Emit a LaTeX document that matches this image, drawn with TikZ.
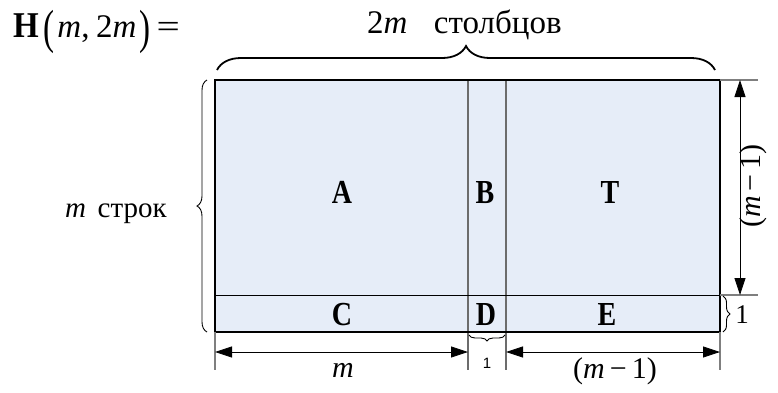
\documentclass[tikz,border=0pt]{standalone}
\usepackage{graphicx}
\usepackage{fontspec}
\setmainfont{Liberation Serif}
\newfontfamily\arialfont{Liberation Sans}
\usetikzlibrary{arrows.meta,decorations.pathreplacing,positioning}
\definecolor{cellfill}{HTML}{E6EDF8}
\definecolor{guide}{HTML}{7F7F7F}
\newcommand{\mvar}{\textit{m}}
\newcommand{\tall}[2][1.2]{\scalebox{1}[#1]{#2}}
\newcommand{\bigparen}[1]{\raisebox{-0.2em}{\scalebox{1}[1.45]{#1}}}

\begin{document}
\begin{tikzpicture}[
  x=1pt,y=-1pt,
  dim/.style={{Triangle[length=17pt,width=11pt]}-{Triangle[length=17pt,width=11pt]},line width=0.8pt},
  guideline/.style={draw=guide,line width=1.1pt},
  split/.style={draw=guide!85!black,line width=1.2pt},
  block/.style={anchor=base,font=\fontsize{28}{28}\selectfont\bfseries},
  caption/.style={anchor=base,font=\fontsize{30}{30}\selectfont},
  bigbrace/.style={decorate,decoration={brace,amplitude=24pt},line width=1.8pt},
  sidebrace/.style={decorate,decoration={brace,amplitude=#1},line width=0.9pt}
]
\useasboundingbox (0,0) rectangle (778,392);
% corners of the matrix and the split points
\coordinate (nw) at (215,80);
\coordinate (se) at (720,332);
\coordinate (rowl) at (215,295);
\coordinate (rowr) at (720,295);
% matrix body
\fill[cellfill] (nw) rectangle (se);
\draw[split] (468,80) -- (468,370);
\draw[split] (506,80) -- (506,370);
\draw[line width=0.9pt] (rowl) -- (rowr);
\draw[line width=2pt] (nw) rectangle (se);
% blocks
\node[block] (A) at (342,203) {\tall{A}};
\node[block] (B) at (485,203) {\tall{B}};
\node[block] (T) at (610,203) {\tall{T}};
\node[block] (C) at (342,325) {\tall{C}};
\node[block] (D) at (486,325) {\tall{D}};
\node[block] (E) at (607,325) {\tall{E}};
% extension lines
\draw[guideline] (720,80) -- (758,80);
\draw[guideline] (rowr) -- (758,295);
\draw[guideline] (215,332) -- (215,370);
\draw[guideline] (720,332) -- (720,370);
\coordinate (vt) at (740,80);
\coordinate (vb) at (740,295);
\coordinate (hl) at (215,352);
\coordinate (hm1) at (468,352);
\coordinate (hm2) at (506,352);
\coordinate (hr) at (720,352);
\draw[dim] (vt) -- (vb);
\draw[dim] (hl) -- (hm1);
\draw[dim] (hm2) -- (hr);
\node[caption,rotate=90] (rowsm) at (760,186) {(\mvar\,−\,1)};
\node[caption] (colm) at (343,377) {\mvar};
\node[caption] (colm1) at (615,378) {(\mvar\,−\,1)};
% braces
\draw[bigbrace] (217,70) -- (715,70);
\draw[sidebrace=10pt] (207,332) -- (207,80);
\draw[sidebrace=7pt] (723,296) -- (723,332);
\draw[sidebrace=6pt] (505,335) -- (469,335);
\node[font=\arialfont\fontsize{15}{15}\selectfont] (one) at (487,363) {1};
\node[caption,font=\fontsize{27}{27}\selectfont] (onerow) at (742,323) {1};
% titles
\node[anchor=base west,inner sep=0pt,font=\fontsize{33}{33}\selectfont] (title) at (13,37)
  {\tall[1.1]{\textbf{H}}\hspace{0.15em}\bigparen{(}\hspace{0.08em}\mvar,\hspace{0.2em}2\mvar\hspace{0.08em}\bigparen{)}\hspace{0.2em}\scalebox{1.25}[1]{=}};
\node[anchor=base west,inner sep=0pt,font=\fontsize{33}{33}\selectfont] (cols) at (367,33)
  {2\mvar\hspace{0.8em}столбцов};
\node[anchor=base west,inner sep=0pt,font=\fontsize{29}{29}\selectfont] (rows) at (65,217)
  {\mvar\hspace{0.4em}строк};
\end{tikzpicture}
\end{document}
